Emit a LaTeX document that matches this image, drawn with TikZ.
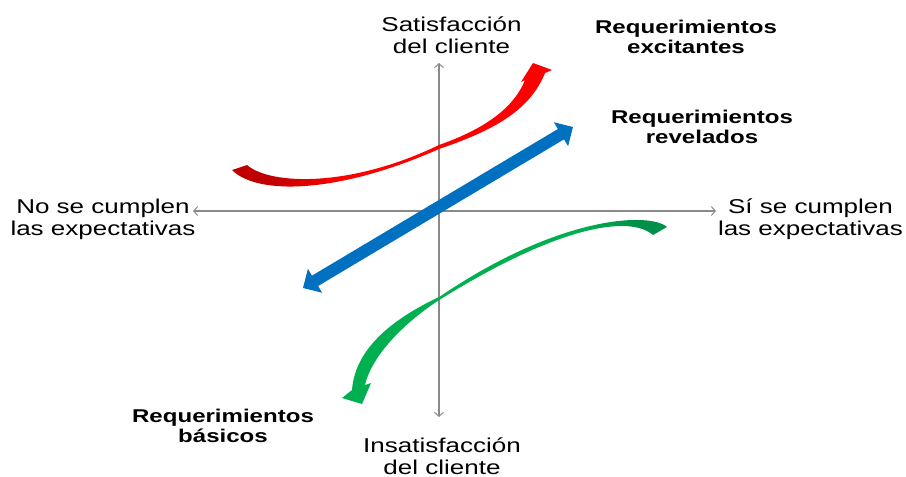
\documentclass[tikz,border=0pt]{standalone}
\usepackage{fontspec}
\setmainfont{Liberation Sans}[FakeStretch=1.3]
\usetikzlibrary{arrows.meta}
\definecolor{axisgray}{HTML}{8A8A8A}
\definecolor{kred}{HTML}{FF0000}
\definecolor{kdred}{HTML}{C00000}
\definecolor{kgreen}{HTML}{00B050}
\definecolor{kdgreen}{HTML}{00904A}
\definecolor{kblue}{HTML}{0070C0}
\pgfdeclarehorizontalshading{redshade}{100bp}{color(0bp)=(kdred); color(25bp)=(kdred); color(31bp)=(kdred); color(42bp)=(kred); color(100bp)=(kred)}
\pgfdeclarehorizontalshading{greenshade}{100bp}{color(0bp)=(kgreen); color(62bp)=(kgreen); color(70bp)=(kdgreen); color(100bp)=(kdgreen)}
\begin{document}
\begin{tikzpicture}[x=1pt,y=-1pt,
  axisline/.style={draw=axisgray, line width=1.2pt,
    {Straight Barb[length=4pt,width=9pt,line width=1pt]}-{Straight Barb[length=4pt,width=9pt,line width=1pt]}},
  lbl/.style={font=\fontsize{20}{21.5}\selectfont, align=center, inner sep=0pt, text=black},
  req/.style={font=\bfseries\fontsize{18.5}{19.5}\selectfont, align=center, inner sep=0pt, text=black},
  bluearrow/.style={draw=kblue, line width=12pt,
    {Triangle[length=14pt,width=27pt]}-{Triangle[length=14pt,width=27pt]}}
]
\useasboundingbox[fill=white] (0,0) rectangle (906,477);

% axes
\coordinate (xl) at (193,211);
\coordinate (xr) at (716,211);
\coordinate (yt) at (439,63);
\coordinate (yb) at (439,417);
\draw[axisline] (xl) -- (xr);
\draw[axisline] (yb) -- (yt);

% labels (base anchor = baseline of the last line)
\node[lbl, anchor=base] (sat) at (451.5,53) {Satisfacción\\del cliente};
\node[lbl, anchor=base] (ins) at (442,474) {Insatisfacción\\del cliente};
\node[lbl, anchor=base] (no) at (103,235) {No se cumplen\\las expectativas};
\node[lbl, anchor=base] (si) at (810.5,235) {Sí se cumplen\\las expectativas};
\node[req, anchor=base] (exc) at (686,53) {Requerimientos\\excitantes};
\node[req, anchor=base] (rev) at (702,143) {Requerimientos\\revelados};
\node[req, anchor=base] (bas) at (223,442) {Requerimientos\\básicos};

% red curved arrow (excitantes)
\shade[shading=redshade]
  (232,170) -- (247,165)
  .. controls (270,185) and (350,188) .. (439,145)
  .. controls (490,127) and (515,105) .. (525,80)
  -- (521,82) -- (533,63) -- (552,70) -- (545,73)
  .. controls (530,110) and (495,130) .. (439,149)
  .. controls (340,193) and (258,196) .. (232,170) -- cycle;

% green curved arrow (basicos)
\shade[shading=greenshade]
  (667,227)
  .. controls (650,212) and (560,215) .. (440,296.5)
  .. controls (390,320) and (355,350) .. (352,390)
  -- (342,398) -- (362,404) -- (371,383) -- (365,385)
  .. controls (372,355) and (405,322) .. (440,299.5)
  .. controls (560,225) and (630,215) .. (653,235) -- cycle;

% blue straight arrow (revelados)
\coordinate (b1) at (303,288);
\coordinate (b2) at (573,127);
\draw[bluearrow] (b1) -- (b2);
\end{tikzpicture}
\end{document}
